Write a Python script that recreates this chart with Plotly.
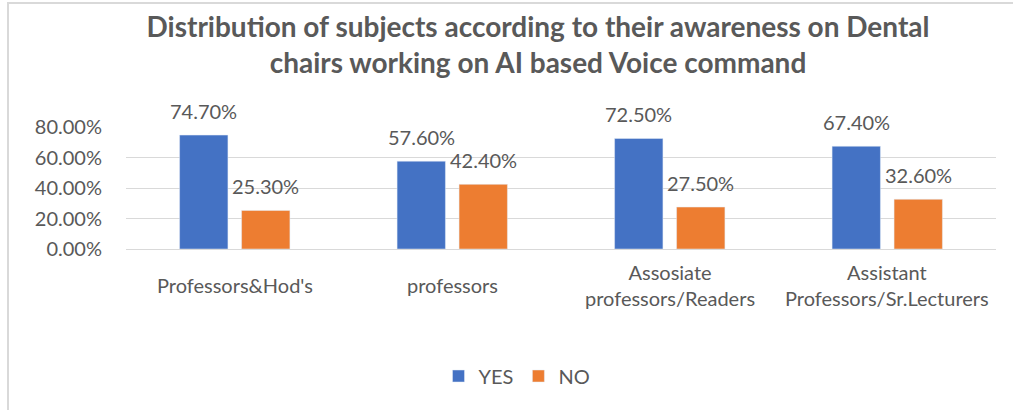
import plotly.graph_objects as go

categories = ["Professors&Hod's", "professors", "Assosiate<br>professors/Readers", "Assistant<br>Professors/Sr.Lecturers"]
yes_values = [74.7, 57.6, 72.5, 67.4]
no_values = [25.3, 42.4, 27.5, 32.6]
series_names = ["YES", "NO"]
tick_vals = [0, 20, 40, 60, 80]
tick_text = ["0.00%", "20.00%", "40.00%", "60.00%", "80.00%"]

FONT = "Lato, Carlito, Calibri, sans-serif"
TXT = "#595959"

fig = go.Figure()
fig.add_trace(go.Bar(name=series_names[0], x=categories, y=yes_values, marker_color="#4472C4"))
fig.add_trace(go.Bar(name=series_names[1], x=categories, y=no_values, marker_color="#ED7D31"))

annotations = []
for vals, shift in ((yes_values, -31), (no_values, 31)):
    for c, v in zip(categories, vals):
        annotations.append(dict(x=c, y=v, xref="x", yref="y", text=f"{v:.2f}%", showarrow=False,
                                xshift=shift, yshift=10, yanchor="bottom",
                                font=dict(family=FONT, size=20, color=TXT)))
for c in categories:
    annotations.append(dict(x=c, y=0, xref="x", yref="y", text=c, showarrow=False,
                            yshift=-36, yanchor="middle", align="center",
                            font=dict(family=FONT, size=20, color=TXT)))

fig.update_layout(
    width=1013, height=410,
    margin=dict(l=126, r=17, t=127, b=161),
    paper_bgcolor="white", plot_bgcolor="white",
    barmode="group", bargap=0.43, bargroupgap=0.22,
    title=dict(text="<b>Distribution of subjects according to their awareness on Dental<br>chairs working on AI based Voice command</b>",
               x=538/1013, xanchor="center", y=1-37/410, yanchor="middle",
               font=dict(family=FONT, size=28, color=TXT)),
    showlegend=True,
    legend=dict(orientation="h", x=(517-126)/870, xanchor="center", y=(249-376)/122, yanchor="middle",
                font=dict(family=FONT, size=20, color=TXT), itemwidth=30, traceorder="normal"),
    annotations=annotations,
    shapes=[dict(type="rect", xref="paper", yref="paper",
                 x0=(8-126)/870, x1=(1030-126)/870, y0=(249-430)/122, y1=(249-3)/122,
                 line=dict(color="#d9d9d9", width=2), fillcolor="rgba(0,0,0,0)", layer="below")],
)
fig.update_xaxes(showgrid=False, showline=True, linecolor="#d9d9d9", linewidth=1,
                 showticklabels=False, ticks="")
fig.update_yaxes(range=[0, 80], tickvals=tick_vals, ticktext=tick_text, showgrid=True,
                 gridcolor="#d9d9d9", gridwidth=1, zeroline=False, showline=False,
                 ticks="outside", ticklen=19, tickcolor="rgba(0,0,0,0)",
                 tickfont=dict(family=FONT, size=20, color=TXT))

fig.write_html("out.html", config={"displayModeBar": False},
               post_script="document.body.style.margin='0';document.body.style.overflow='hidden';")
